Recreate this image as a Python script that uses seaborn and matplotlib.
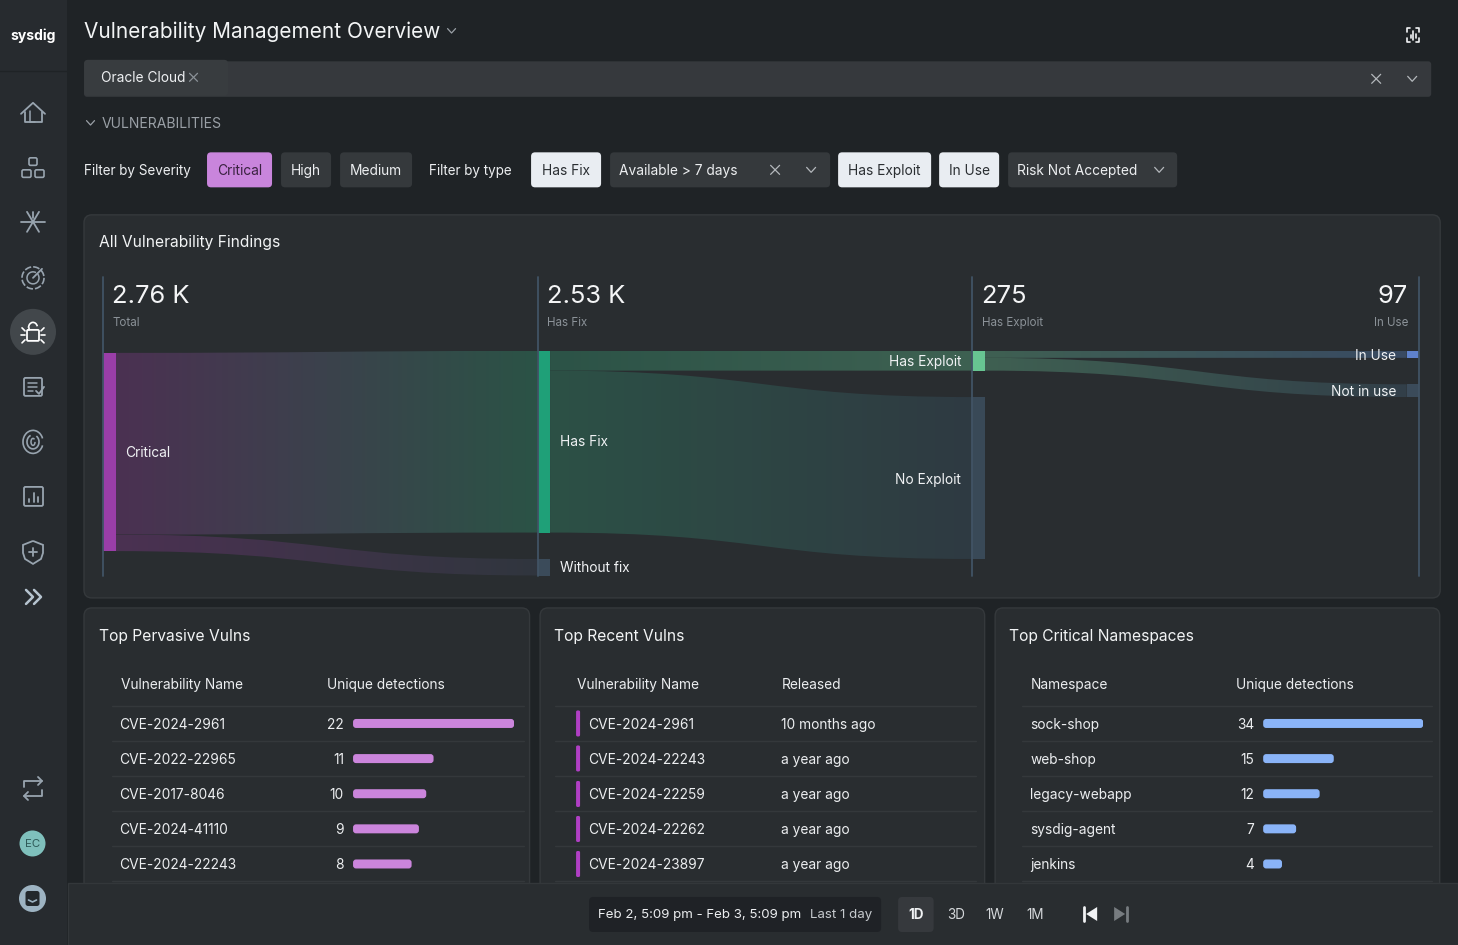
import numpy as np
import pandas as pd
import matplotlib
matplotlib.use("Agg")
import matplotlib.pyplot as plt
from matplotlib.patches import FancyBboxPatch, Circle, PathPatch, Polygon, Arc, Rectangle
from matplotlib.path import Path
from matplotlib.colors import LinearSegmentedColormap
import seaborn as sns

# ---------- data ----------
stat_values = ["2.76 K", "2.53 K", "275", "97"]
stat_labels = ["Total", "Has Fix", "Has Exploit", "In Use"]

total_critical = 2760
has_fix = 2530
without_fix = 230
has_exploit = 275
no_exploit = 2255
in_use = 97
not_in_use = 178

pervasive_names = ["CVE-2024-2961", "CVE-2022-22965", "CVE-2017-8046", "CVE-2024-41110", "CVE-2024-22243"]
pervasive_counts = [22, 11, 10, 9, 8]
recent_names = ["CVE-2024-2961", "CVE-2024-22243", "CVE-2024-22259", "CVE-2024-22262", "CVE-2024-23897"]
recent_released = ["10 months ago", "a year ago", "a year ago", "a year ago", "a year ago"]
namespace_names = ["sock-shop", "web-shop", "legacy-webapp", "sysdig-agent", "jenkins"]
namespace_counts = [34, 15, 12, 7, 4]

W, H = 1458, 945
BG = "#1f2326"; SIDE = "#272b2f"; PANEL = "#292d30"; CHIP = "#35393c"; EDGE = "#35393c"
TXT = "#eceef0"; MUTED = "#8b9298"; ICON = "#98a4af"
FS = 13.75

sns.set_theme(style="dark")
plt.rcParams["font.family"] = ["Inter", "DejaVu Sans"]
plt.rcParams["axes.grid"] = False

fig = plt.figure(figsize=((W + 0.2) / 100, (H + 0.2) / 100), dpi=100, facecolor=BG)


def px_axes(z):
    a = fig.add_axes([0, 0, 1, 1], zorder=z)
    a.set_xlim(0, W); a.set_ylim(H, 0); a.axis("off"); a.patch.set_alpha(0)
    return a


page = px_axes(0)
top = px_axes(5)


def T(a, x, y, s, size=FS, color=TXT, ha="left", weight="normal", **k):
    a.text(x, y + 0.9, s, fontsize=size * 0.72, color=color, ha=ha, va="center", weight=weight, **k)


def box(a, x0, y0, x1, y1, fc, r=4, ec="none", lw=0, z=1):
    p = FancyBboxPatch((x0 + r, y0 + r), x1 - x0 - 2 * r, y1 - y0 - 2 * r,
                       boxstyle=f"round,pad={r},rounding_size={r}", fc=fc, ec=ec, lw=lw, zorder=z)
    a.add_patch(p)
    return p


def L(a, xs, ys, c=ICON, lw=1.3, z=3, **k):
    a.plot(xs, ys, color=c, lw=lw, zorder=z, solid_capstyle="round", solid_joinstyle="round", **k)


def chev(a, x, y, c=MUTED, s=4, lw=0.9):
    L(a, [x - s, x, x + s], [y - s * .55, y + s * .55, y - s * .55], c, lw)


def cross(a, x, y, c=MUTED, s=4.5, lw=0.9):
    L(a, [x - s, x + s], [y - s, y + s], c, lw)
    L(a, [x - s, x + s], [y + s, y - s], c, lw)


# ---------- sidebar ----------
page.add_patch(Rectangle((0, 0), 67, H, fc=SIDE, ec="none", zorder=1))
L(page, [0, 67], [71.5, 71.5], "#1f2326", 1)
T(page, 33.5, 35, "sysdig", 14, "#ffffff", "center", "bold")

# home
L(page, [21, 33, 45], [114, 103, 114])
L(page, [24.5, 24.5, 41.5, 41.5], [112, 122, 122, 112])
L(page, [29.5, 29.5, 35], [111, 122, 122], lw=1.1)
# apps
for bx, by, bw in [(29, 158, 8), (22, 170, 9), (35, 170, 9)]:
    box(page, bx, by, bx + bw, by + 7.5, "none", 1.5, ICON, 1.2, 3)
# star
L(page, [21, 45], [222, 222]); L(page, [33, 33], [212, 218])
L(page, [27, 39], [212, 232]); L(page, [39, 27], [212, 232])
# target
page.add_patch(Arc((33, 278), 22, 22, theta1=0, theta2=360, ec=ICON, lw=1.2, ls=(0, (4, 1.2)), zorder=3))
page.add_patch(Arc((33, 278), 12, 12, theta1=-40, theta2=300, ec=ICON, lw=1.1, zorder=3))
L(page, [33, 42], [278, 269])
# active bug (open padlock with legs)
page.add_patch(Circle((33, 332), 23, fc="#42474b", ec="none", zorder=2))
box(page, 27, 330, 39, 341, "none", 1.2, "#ffffff", 1.3, 3)
page.add_patch(Arc((33, 328), 9, 11, theta1=180, theta2=340, ec="#ffffff", lw=1.2, zorder=3))
L(page, [28.5, 28.5], [328, 330], "#ffffff", 1.2)
for sgn in (-1, 1):
    L(page, [33 + sgn * 8, 33 + sgn * 11], [331, 328], "#ffffff", 1.2)
    L(page, [33 + sgn * 8, 33 + sgn * 12], [335.5, 335.5], "#ffffff", 1.2)
    L(page, [33 + sgn * 8, 33 + sgn * 11], [340, 343], "#ffffff", 1.2)
# report
box(page, 24, 378, 42, 396, "none", 1.5, ICON, 1.3, 3)
L(page, [28, 37], [383, 383], lw=1.1); L(page, [28, 37], [387, 387], lw=1.1); L(page, [28, 33], [391, 391], lw=1.1)
L(page, [36, 39, 44], [391, 394, 387], lw=1.3)
# fingerprint
page.add_patch(Arc((33, 442), 20, 23, theta1=20, theta2=340, ec=ICON, lw=1.2, zorder=3))
page.add_patch(Arc((33, 442), 12, 14, theta1=-60, theta2=250, ec=ICON, lw=1.2, zorder=3))
page.add_patch(Arc((33, 442), 4, 7, theta1=0, theta2=300, ec=ICON, lw=1.1, zorder=3))
# chart
box(page, 24, 487, 43, 506, "none", 1.5, ICON, 1.3, 3)
for xb, yb in [(29, 499), (33.5, 493), (38, 497)]:
    L(page, [xb, xb], [yb, 502], lw=1.3)
# shield
page.add_patch(PathPatch(Path([(33, 541), (43, 545), (43, 553), (41, 559), (33, 564), (25, 559), (23, 553), (23, 545), (33, 541)]),
                         fc="none", ec=ICON, lw=1.3, zorder=3))
L(page, [33, 33], [548, 556], lw=1.3); L(page, [29, 37], [552, 552], lw=1.3)
# expand
L(page, [26, 33, 26], [590, 597, 604], "#b5c3cf", 1.8)
L(page, [34, 41, 34], [590, 597, 604], "#b5c3cf", 1.8)
# swap
L(page, [24, 24, 42], [787, 781, 781]); L(page, [38, 42, 38], [777, 781, 785])
L(page, [42, 42, 24], [790, 796, 796]); L(page, [28, 24, 28], [792, 796, 800])
# avatars
page.add_patch(Circle((32.5, 843.5), 13, fc="#7fc0bc", ec="none", zorder=3))
T(page, 32.5, 842.6, "EC", 11.5, "#2e5a58", "center", zorder=4)
page.add_patch(Circle((32.5, 898.5), 13.5, fc="#9db3c2", ec="none", zorder=3))
box(page, 25.5, 891, 39.5, 906, "#23282c", 2.5, z=4)
L(page, [28.5, 32.5, 36.5], [900, 902, 900], "#9db3c2", 1.2, 5)

# ---------- header ----------
T(page, 84, 31, "Vulnerability Management Overview", 20.8, "#f2f4f5")
chev(page, 451.5, 31, "#9aa0a6", 4)
L(page, [1407, 1407, 1410], [32, 28, 28], "#f0f2f4", 1.2); L(page, [1416, 1419, 1419], [28, 28, 32], "#f0f2f4", 1.2)
L(page, [1407, 1407, 1410], [38, 42, 42], "#f0f2f4", 1.2); L(page, [1416, 1419, 1419], [42, 42, 38], "#f0f2f4", 1.2)
for xb, y0b, y1b in [(1410.5, 35, 38), (1413, 31, 40), (1415.5, 34, 38)]:
    L(page, [xb, xb], [y0b, y1b], "#f0f2f4", 1.2)

box(page, 84, 61.5, 1431, 97, "#36393d", 3)
box(page, 84, 60, 228, 96, "#383c3f", 4, z=2)
T(page, 101, 77.5, "Oracle Cloud", FS, "#eef0f2", zorder=3)
cross(page, 193.5, 77.5, MUTED, 4)
cross(page, 1376, 79, "#b4b8bc", 4.5)
chev(page, 1412, 79, "#b4b8bc", 4.5)
chev(page, 90.5, 123, "#9aa0a6", 4)
T(page, 102, 123, "VULNERABILITIES", 14, "#9aa0a6")

# ---------- filters ----------
y0f, y1f = 152.5, 187.5
T(page, 84, 170, "Filter by Severity", 13.5)
box(page, 207, y0f, 272, y1f, "#c985dc", 4)
T(page, 239.5, 170, "Critical", FS, "#3a2240", "center", zorder=3)
box(page, 281, y0f, 331, y1f, CHIP, 4)
T(page, 306, 170, "High", FS, TXT, "center", zorder=3)
box(page, 340, y0f, 412, y1f, CHIP, 4)
T(page, 376, 170, "Medium", FS, TXT, "center", zorder=3)
T(page, 429, 170, "Filter by type", 13.5)
box(page, 531, y0f, 601, y1f, "#e9edf2", 4)
T(page, 566, 170, "Has Fix", FS, "#2a2e32", "center", zorder=3)
box(page, 610, y0f, 830, y1f, CHIP, 4)
T(page, 619, 170, "Available > 7 days", FS, TXT, zorder=3)
cross(page, 775, 170, "#b4b8bc", 4.5)
chev(page, 811, 170, "#b4b8bc", 4.5)
box(page, 838, y0f, 931, y1f, "#e9edf2", 4)
T(page, 884.5, 170, "Has Exploit", FS, "#2a2e32", "center", zorder=3)
box(page, 939, y0f, 999, y1f, "#e9edf2", 4)
T(page, 969, 170, "In Use", FS, "#2a2e32", "center", zorder=3)
box(page, 1008, y0f, 1177, y1f, CHIP, 4)
T(page, 1017, 170, "Risk Not Accepted", FS, TXT, zorder=3)
chev(page, 1159, 170, "#b4b8bc", 4.5)

# ---------- panels ----------
box(page, 84, 215, 1440, 598, PANEL, 8, EDGE, 1)
box(page, 84, 608, 529.5, 940, PANEL, 8, EDGE, 1)
box(page, 540, 608, 984.5, 940, PANEL, 8, EDGE, 1)
box(page, 995, 608, 1439.5, 940, PANEL, 8, EDGE, 1)
T(page, 98.5, 241.5, "All Vulnerability Findings", 15.6, "#f2f4f5")
T(page, 98.5, 635.5, "Top Pervasive Vulns", 15.6, "#f2f4f5")
T(page, 554, 635.5, "Top Recent Vulns", 15.6, "#f2f4f5")
T(page, 1008.5, 635.5, "Top Critical Namespaces", 15.6, "#f2f4f5")

# ---------- sankey ----------
COL_PX = 434.5          # pixels per column
UNIT_PX = 0.0718        # pixels per finding
NODE_W = 12.5 / COL_PX
PAD = 368               # vertical gap between nodes of a column, in findings
sx0, sx1 = 103, 1419
sy0, sy1 = 277, 576
sy_zero = 351
sax = fig.add_axes([sx0 / W, 1 - sy1 / H, (sx1 - sx0) / W, (sy1 - sy0) / H], zorder=2)
sax.axis("off"); sax.patch.set_alpha(0)
xlim = (0, (sx1 - sx0) / COL_PX)
ylim = ((sy1 - sy_zero) / UNIT_PX, (sy0 - sy_zero) / UNIT_PX)


def link(col, s_top, t_top, value, c0, c1):
    x0 = col + NODE_W; x1 = col + 1; xm = (x0 + x1) / 2
    verts = [(x0, s_top), (xm, s_top), (xm, t_top), (x1, t_top),
             (x1, t_top + value), (xm, t_top + value), (xm, s_top + value), (x0, s_top + value), (x0, s_top)]
    codes = [Path.MOVETO, Path.CURVE4, Path.CURVE4, Path.CURVE4, Path.LINETO,
             Path.CURVE4, Path.CURVE4, Path.CURVE4, Path.CLOSEPOLY]
    patch = PathPatch(Path(verts, codes), fc="none", ec="none", transform=sax.transData)
    sax.add_patch(patch)
    cmap = LinearSegmentedColormap.from_list("g", [c0, c1])
    im = sax.imshow(np.linspace(0, 1, 256)[None, :], cmap=cmap, aspect="auto", zorder=1,
                    extent=(x0, x1, max(s_top, t_top) + value, min(s_top, t_top)))
    im.set_clip_path(patch)


def node(col, y_top, value, c, width=NODE_W):
    sax.bar(col, value, width=width, bottom=y_top, align="edge", color=c, lw=0, zorder=2)


top_total = 28
y_without = has_fix + PAD
y_noexp = has_exploit + PAD
y_notuse = in_use + PAD

link(0, top_total, 0, has_fix, "#4b3152", "#2b5346")
link(0, top_total + has_fix, y_without, without_fix, "#4b3152", "#30363e")
link(1, 0, 0, has_exploit, "#2c5347", "#3e6152")
link(1, has_exploit, y_noexp, no_exploit, "#2c5146", "#2f3a42")
link(2, 0, 0, in_use, "#3f6052", "#394a62")
link(2, in_use, y_notuse, not_in_use, "#3f6052", "#323f49")

node(0, top_total, total_critical, "#9a3ea8")
node(1, 0, has_fix, "#1fa078")
node(1, y_without, without_fix, "#3b4b5a")
node(2, 0, has_exploit, "#67c592")
node(2, y_noexp, no_exploit, "#394957")
node(3, 0, in_use, "#5f82cc")
node(3, y_notuse, not_in_use, "#3b4b5a")
sax.set_xlim(*xlim); sax.set_ylim(*ylim)
for xv in [0, 1, 2, xlim[1]]:
    sax.axvline(xv, color="#415365", lw=1.3, zorder=4, clip_on=False)

for xp, yp, s, ha in [(125, 452, "Critical", "left"), (560, 441.5, "Has Fix", "left"),
                      (560, 567, "Without fix", "left"), (961, 361, "Has Exploit", "right"),
                      (961, 478.5, "No Exploit", "right"), (1396, 355, "In Use", "right"),
                      (1396, 391, "Not in use", "right")]:
    T(top, xp, yp, s, FS, "#f0f2f4", ha)

for xp, v, l, ha in zip([111.5, 546.5, 981, 1407.5], stat_values, stat_labels, ["left", "left", "left", "right"]):
    T(top, xp, 295.5, v, 25.5, "#f4f5f6", ha)
    T(top, xp + 0.5, 322, l, 11.6, MUTED, ha)

# ---------- tables ----------
row_y = [723.5, 758.5, 794, 829, 864]
seps = [706, 741, 776.5, 811.5, 846.5, 881]


def table(x0, x1, head_a, head_b, xa, xb):
    T(page, xa, 683.5, head_a, FS, "#eceef0", zorder=3)
    T(page, xb, 683.5, head_b, FS, "#eceef0", zorder=3)
    for s in seps:
        L(page, [x0, x1], [s, s], "#34383b", 1, 2)


def hbars(names, values, x0, x1, color):
    band = 35.1
    yt, yb = row_y[0] - band / 2, row_y[-1] + band / 2
    a = fig.add_axes([x0 / W, 1 - yb / H, (x1 - x0) / W, (yb - yt) / H], zorder=2)
    df = pd.DataFrame({"name": names, "count": values})
    sns.barplot(data=df, x="count", y="name", ax=a, color=color, width=9 / band,
                orient="h", saturation=1, order=names)
    a.set_xlim(0, max(values)); a.axis("off"); a.patch.set_alpha(0)
    xpp = max(values) / (x1 - x0)
    ypp = 5 / (yb - yt)
    for p in list(a.patches)[:len(values)]:
        fb = FancyBboxPatch((p.get_x(), p.get_y()), p.get_width(), p.get_height(),
                            boxstyle=f"round,pad=0,rounding_size={3 * xpp}",
                            mutation_aspect=ypp / xpp, fc=color, ec="none", lw=0)
        a.add_patch(fb)
        p.set_visible(False)
    return a


table(112, 524, "Vulnerability Name", "Unique detections", 120.5, 326.5)
for y, n, c in zip(row_y, pervasive_names, pervasive_counts):
    T(page, 119.5, y, n, FS, "#eceef0", zorder=3)
    T(page, 344, y, str(c), FS, "#eceef0", "right", zorder=3)
hbars(pervasive_names, pervasive_counts, 353, 514, "#cb85dc")

table(555, 976, "Vulnerability Name", "Released", 576.5, 781.5)
for y, n, r in zip(row_y, recent_names, recent_released):
    box(page, 576, y - 13, 580, y + 13, "#b03fc4", 1.5, z=3)
    T(page, 588.5, y, n, FS, "#eceef0", zorder=3)
    T(page, 781, y, r, FS, "#eceef0", zorder=3)

table(1022, 1432, "Namespace", "Unique detections", 1031, 1236)
for y, n, c in zip(row_y, namespace_names, namespace_counts):
    T(page, 1030, y, n, FS, "#eceef0", zorder=3)
    T(page, 1254, y, str(c), FS, "#eceef0", "right", zorder=3)
hbars(namespace_names, namespace_counts, 1263, 1423, "#8ab4f8")

# ---------- bottom bar ----------
top.add_patch(Rectangle((68, 883), W - 68, H - 883, fc="#292d30", ec="#33373a", lw=1, zorder=1))
box(top, 589, 897, 881, 932, "#1f2226", 4, z=2)
T(top, 597.5, 914, "Feb 2, 5:09 pm - Feb 3, 5:09 pm", 13.3, "#eceef0", zorder=3)
T(top, 810, 914, "Last 1 day", 13.3, "#c5c9cd", zorder=3)
box(top, 898, 897, 933.5, 932, "#36393d", 4, z=2)
T(top, 916, 914, "1D", 13.5, "#f0f2f4", "center", "bold", zorder=3)
T(top, 955.5, 914, "3D", 13.5, "#d5d8db", "center", zorder=3)
T(top, 995, 914, "1W", 13.5, "#d5d8db", "center", zorder=3)
T(top, 1034.5, 914, "1M", 13.5, "#d5d8db", "center", zorder=3)
top.add_patch(Polygon([(1097, 907), (1097, 921), (1086, 914)], fc="#f0f2f4", ec="none", zorder=3))
L(top, [1083.5, 1083.5], [907, 921], "#f0f2f4", 2)
top.add_patch(Polygon([(1114, 907), (1114, 921), (1125, 914)], fc="#777c80", ec="none", zorder=3))
L(top, [1127, 1127], [907, 921], "#777c80", 2)

fig.savefig("out.png", dpi=100, facecolor=BG)
